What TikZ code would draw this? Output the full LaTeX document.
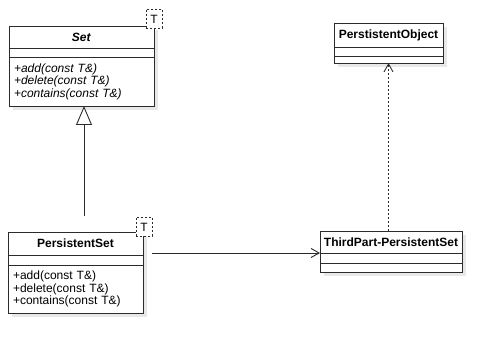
\documentclass[tikz,border=0pt]{standalone}
\usepackage{fontspec}
\setmainfont{Liberation Sans}
\usetikzlibrary{arrows.meta, positioning, shadows}
\definecolor{umlline}{HTML}{2b2b2b}

\begin{document}
\begin{tikzpicture}[x=1pt, y=-1pt,
  uml/.style={draw=umlline, fill=white, line width=0.9pt, outer sep=0pt,
    inner xsep=5pt, inner ysep=1pt, font=\fontsize{12}{12.5}\selectfont,
    drop shadow={shadow xshift=4pt, shadow yshift=-4pt, fill=black, opacity=0.09}},
  classname/.style={uml, text width=#1, align=center, font=\fontsize{12}{12.5}\selectfont\bfseries},
  classpart/.style={uml, text width=#1, align=left},
  tparam/.style={draw=umlline, dashed, dash pattern=on 2pt off 2pt, fill=white, line width=0.9pt,
    minimum width=16pt, minimum height=19pt, inner sep=0pt, font=\fontsize{12}{12.5}\selectfont},
  gen/.style={draw=umlline, line width=0.9pt, -{Triangle[open, length=19pt, width=16pt, fill=white]}},
  assoc/.style={draw=umlline, line width=0.9pt, -{Straight Barb[length=8pt, width=9pt]}},
  dep/.style={draw=umlline, line width=0.9pt, dash pattern=on 2pt off 2pt, -{Straight Barb[length=8pt, width=9pt]}}]
\useasboundingbox (0,0) rectangle (499,350);

% Set
\node[classname=135pt, minimum height=22pt, anchor=north west] (setname) at (9,26) {\textit{Set}};
\node[classpart=135pt, minimum height=9pt, below=0pt of setname] (setattr) {};
\node[classpart=135pt, minimum height=49pt, below=0pt of setattr, font=\fontsize{12}{12.5}\selectfont\itshape] (setops)
  {+add(const T\&)\\+delete(const T\&)\\+contains(const T\&)};
\node[tparam] (setT) at ([yshift=7pt]setname.north east) {T};

% PersistentSet
\node[classname=125pt, minimum height=23pt, anchor=north west] (psname) at (8,232) {PersistentSet};
\node[classpart=125pt, minimum height=10pt, below=0pt of psname] (psattr) {};
\node[classpart=125pt, minimum height=48pt, below=0pt of psattr] (psops)
  {+add(const T\&)\\+delete(const T\&)\\+contains(const T\&)};
\node[tparam] (psT) at ([xshift=1pt, yshift=5pt]psname.north east) {T};

% PerstistentObject
\node[classname=99pt, minimum height=24pt, anchor=north west] (objname) at (334,23) {\makebox[99pt]{PerstistentObject}};
\node[classpart=99pt, minimum height=9pt, below=0pt of objname] (objattr) {};
\node[classpart=99pt, minimum height=7pt, below=0pt of objattr] (objops) {};

% ThirdPart-PersistentSet
\node[classname=132pt, minimum height=22pt, anchor=north west] (thirdname) at (320,231) {\makebox[132pt]{ThirdPart-PersistentSet}};
\node[classpart=132pt, minimum height=10pt, below=0pt of thirdname] (thirdattr) {};
\node[classpart=132pt, minimum height=9pt, below=0pt of thirdattr] (thirdops) {};

% connectors
\coordinate (genstart) at (84,216);
\coordinate (assocstart) at (152,253);
\draw[gen] (genstart) -- (genstart |- setops.south);
\draw[assoc] (assocstart) -- (assocstart -| thirdname.west);
\draw[dep] (objops.south |- thirdname.north) -- (objops.south);
\end{tikzpicture}
\end{document}
